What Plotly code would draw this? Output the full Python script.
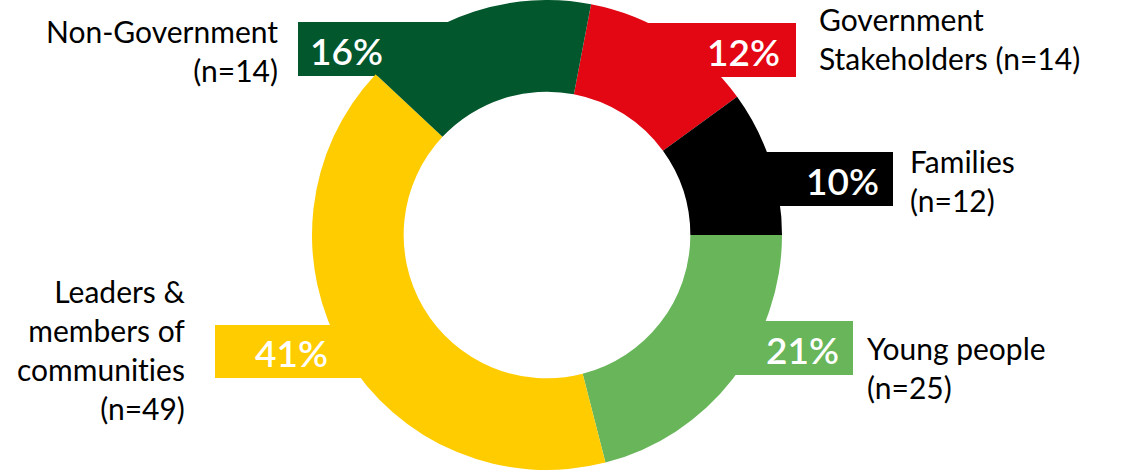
import plotly.graph_objects as go

# Stakeholder groups, clockwise from the top
groups = ["Government Stakeholders", "Families", "Young people",
          "Leaders & members of communities", "Non-Government"]
shares = [12, 10, 21, 41, 16]          # percent of respondents
counts = [14, 12, 25, 49, 14]          # n per group
colors = ["#E30613", "#000000", "#68B55A", "#FFCC00", "#03572C"]

# Line-broken label text for each group
label_lines = [
    ["Government", "Stakeholders (n=14)"],
    ["Families", "(n=12)"],
    ["Young people", "(n=25)"],
    ["Leaders &", "members of", "communities", "(n=49)"],
    ["Non-Government", "(n=14)"],
]

W, H = 1140, 474
CX, CY, R = 547, 235, 235
HOLE = 0.61
FONT = "Lato"


def px(x):
    return x / W


def py(y):
    return 1 - y / H


def no_lig(line):
    # stop the font from joining "ti" / "fi" into ligatures
    return f'<span style="font-variant-ligatures:none">{line}</span>'


fig = go.Figure()
fig.add_trace(go.Pie(
    labels=groups,
    values=shares,
    marker=dict(colors=colors, line=dict(width=0)),
    hole=HOLE,
    sort=False,
    direction="clockwise",
    rotation=10.8,
    textinfo="none",
    hoverinfo="label+value",
    showlegend=False,
    domain=dict(x=[px(CX - R), px(CX + R)], y=[py(CY + R), py(CY - R)]),
))

# Coloured tabs carrying the percentage; they tuck under the ring
# (x0, x1, y0, y1, text anchor x, text alignment) in pixels
tabs = [
    (620, 796, 23, 77, 782, "right"),
    (720, 893, 152, 206, 881, "right"),
    (700, 853, 321, 375, 841, "right"),
    (215, 390, 325, 378, 253, "left"),
    (298, 470, 22, 76, 308, "left"),
]

# Group label placement: (anchor x, first baseline y, alignment)
label_pos = [
    (817, 31, "left"),
    (908, 173, "left"),
    (865, 360, "left"),
    (188, 303, "right"),
    (280, 43, "right"),
]

LABEL_SIZE = 30
PCT_SIZE = 37

for i, (x0, x1, y0, y1, tx, al) in enumerate(tabs):
    fig.add_shape(type="rect", xref="paper", yref="paper",
                  x0=px(x0), x1=px(x1), y0=py(y1), y1=py(y0),
                  fillcolor=colors[i], line=dict(width=0), layer="below")
    fig.add_annotation(
        xref="paper", yref="paper", x=px(tx), y=py((y0 + y1) / 2 + 1),
        xanchor=al, yanchor="middle", showarrow=False,
        text=f"{shares[i]}%",
        font=dict(family=FONT, size=PCT_SIZE, color="white", weight=600),
    )

for i, (lx, base, al) in enumerate(label_pos):
    top = base - 1.08 * LABEL_SIZE
    fig.add_annotation(
        xref="paper", yref="paper", x=px(lx), y=py(top),
        xanchor=al, yanchor="top", align=al, showarrow=False,
        text="<br>".join(no_lig(s) for s in label_lines[i]),
        font=dict(family=FONT, size=LABEL_SIZE, color="black"),
    )

fig.update_layout(
    width=W, height=H,
    margin=dict(l=0, r=0, t=0, b=0),
    paper_bgcolor="white", plot_bgcolor="white",
)

fig.write_html("out.html")
